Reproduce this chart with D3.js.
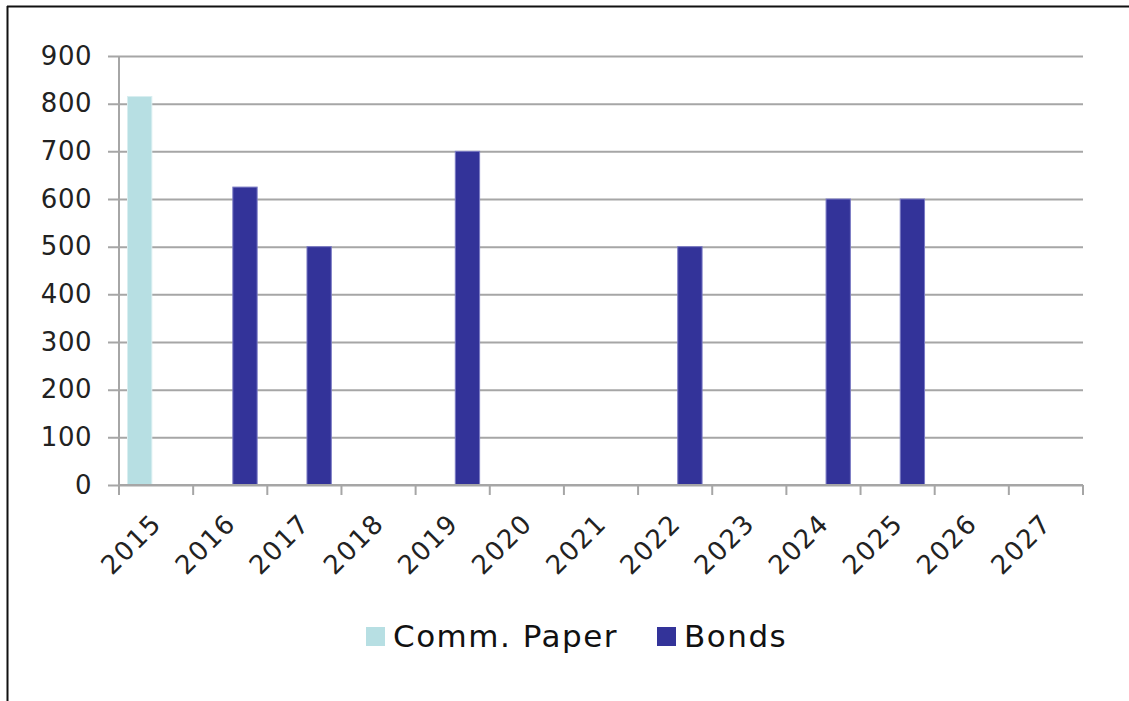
<!DOCTYPE html>
<html>
<head>
<meta charset="utf-8">
<script src="https://cdn.jsdelivr.net/npm/d3@7"></script>
<style>
  body { margin: 0; background: #fff; }
  svg { display: block; font-family: "DejaVu Sans", Verdana, sans-serif; }
</style>
</head>
<body>
<script>
// data
const years = ["2015", "2016", "2017", "2018", "2019", "2020", "2021", "2022", "2023", "2024", "2025", "2026", "2027"];
const series = ["Comm. Paper", "Bonds"];
const commPaper = [815, 0, 0, 0, 0, 0, 0, 0, 0, 0, 0, 0, 0];
const bonds = [0, 625, 500, 0, 700, 0, 0, 500, 0, 600, 600, 0, 0];
const yTicks = [0, 100, 200, 300, 400, 500, 600, 700, 800, 900];
const colors = ["#b7dfe3", "#333399"];
const strokes = ["#d8eef0", "#7a7ac4"];

const W = 1129, H = 701;
const plotL = 119, plotR = 1083, plotT = 56, plotB = 485;
const plotW = plotR - plotL;

const svg = d3.select("body").append("svg")
  .attr("width", W)
  .attr("height", H);

// outer frame (only top + left edges show)
svg.append("line").attr("x1", 7).attr("x2", W).attr("y1", 6.5).attr("y2", 6.5)
  .attr("stroke", "#111").attr("stroke-width", 2);
svg.append("line").attr("x1", 7.5).attr("x2", 7.5).attr("y1", 6).attr("y2", H)
  .attr("stroke", "#111").attr("stroke-width", 2);

const x0 = d3.scaleBand().domain(years).range([plotL, plotR]).padding(0);
const x1 = d3.scaleBand().domain(series).range([8.5, 64]).paddingInner(0.22);
const y = d3.scaleLinear().domain([0, 900]).range([plotB, plotT]);

// y axis with gridlines
const yAxis = svg.append("g")
  .attr("transform", "translate(" + plotL + ",0)")
  .call(d3.axisLeft(y).tickValues(yTicks).tickSize(-plotW).tickPadding(27));
yAxis.select(".domain").remove();
yAxis.selectAll(".tick line")
  .attr("x1", -11)
  .attr("stroke", "#a6a6a6")
  .attr("stroke-width", 2);
yAxis.selectAll(".tick text")
  .attr("font-size", 26)
  .attr("fill", "#222")
  .attr("letter-spacing", 0.5)
  .attr("font-family", "DejaVu Sans, Verdana, sans-serif");

svg.append("line")
  .attr("x1", plotL).attr("x2", plotL).attr("y1", plotT).attr("y2", plotB)
  .attr("stroke", "#a6a6a6").attr("stroke-width", 2);

// bars
const rows = years.map((yr, i) => ({ year: yr, values: [commPaper[i], bonds[i]] }));
const grp = svg.append("g").selectAll("g")
  .data(rows)
  .join("g")
  .attr("transform", d => "translate(" + x0(d.year) + ",0)");

grp.selectAll("rect")
  .data(d => d.values.map((v, k) => ({ key: series[k], k: k, v: v })).filter(e => e.v > 0))
  .join("rect")
  .attr("x", d => x1(d.key))
  .attr("width", x1.bandwidth())
  .attr("y", d => y(d.v))
  .attr("height", d => y(0) - y(d.v))
  .attr("fill", d => colors[d.k])
  .attr("stroke", d => strokes[d.k])
  .attr("stroke-width", 1);

// x axis: baseline, tick marks between categories, rotated labels
svg.append("line")
  .attr("x1", plotL).attr("x2", plotR).attr("y1", plotB).attr("y2", plotB)
  .attr("stroke", "#a6a6a6").attr("stroke-width", 2);

const tickPos = years.map(d => x0(d)).concat([plotR]);
svg.append("g").selectAll("line")
  .data(tickPos)
  .join("line")
  .attr("x1", d => d).attr("x2", d => d)
  .attr("y1", plotB).attr("y2", plotB + 10)
  .attr("stroke", "#a6a6a6").attr("stroke-width", 2);

svg.append("g").selectAll("text")
  .data(years)
  .join("text")
  .attr("transform", d => "translate(" + (x0(d) + x0.bandwidth() / 2 + 7) + "," + 525 + ") rotate(-45)")
  .attr("text-anchor", "end")
  .attr("font-size", 26)
  .attr("letter-spacing", 1.5)
  .attr("fill", "#222")
  .text(d => d);

// legend
const legendX = [366, 657];
const legend = svg.append("g").selectAll("g")
  .data(series)
  .join("g")
  .attr("transform", (d, i) => "translate(" + legendX[i] + ",627)");
legend.append("rect")
  .attr("width", 19).attr("height", 19)
  .attr("fill", (d, i) => colors[i]);
legend.append("text")
  .attr("x", 27).attr("y", 20)
  .attr("font-size", 31)
  .attr("letter-spacing", 1.5)
  .attr("fill", "#111")
  .text(d => d);
</script>
</body>
</html>
